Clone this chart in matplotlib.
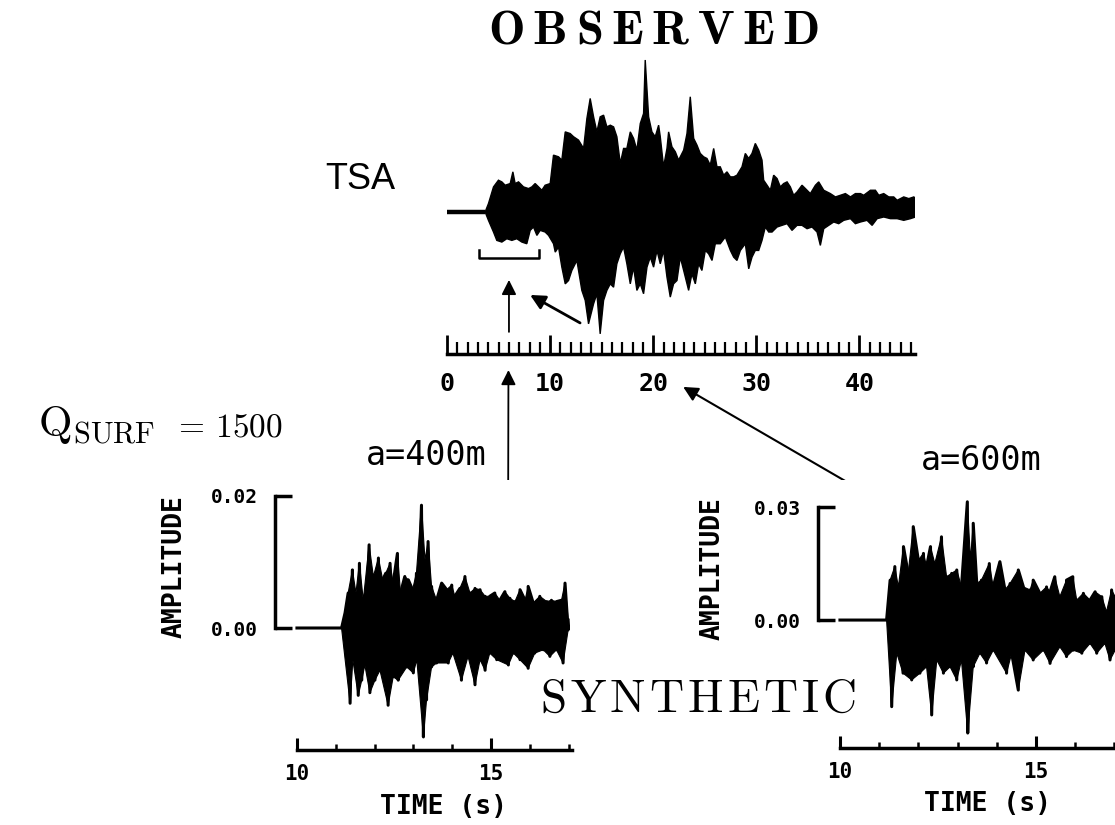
import numpy as np
import matplotlib
matplotlib.use('Agg')
import matplotlib.pyplot as plt
from matplotlib.ticker import MultipleLocator, FixedLocator, FormatStrFormatter

plt.rcParams['mathtext.fontset'] = 'cm'
MONO = 'DejaVu Sans Mono'

# observed record at TSA: envelope peaks (time in s, relative amplitude)
tsa_t_up = [0.0, 3.69, 4.01, 4.50, 4.98, 5.31, 5.63, 6.12, 6.38, 6.60, 6.93, 7.09, 7.41, 7.90,
            8.22, 8.54, 8.87, 9.19, 9.51, 10.00, 10.32, 10.81, 11.13, 11.46, 11.94, 12.27,
            12.75, 13.24, 13.56, 13.88, 14.21, 14.53, 14.85, 15.18, 15.50, 15.83, 16.15,
            16.47, 16.80, 17.12, 17.44, 17.77, 18.09, 18.41, 18.74, 19.06, 19.22, 19.55,
            19.87, 20.19, 20.52, 20.68, 21.00, 21.33, 21.49, 21.81, 22.14, 22.46, 22.95,
            23.27, 23.59, 23.92, 24.24, 24.56, 24.89, 25.21, 25.53, 25.86, 26.18, 26.50,
            26.83, 27.15, 27.48, 27.80, 28.12, 28.61, 28.93, 29.26, 29.58, 29.90, 30.23,
            30.55, 30.71, 31.04, 31.36, 31.68, 32.01, 32.33, 32.65, 32.98, 33.30, 33.62,
            33.95, 34.43, 34.76, 35.24, 35.73, 36.05, 36.54, 37.18, 37.67, 38.16, 38.64,
            39.13, 39.61, 40.10, 40.42, 41.07, 41.55, 41.88, 42.36, 42.85, 43.33, 43.66,
            44.30, 44.79, 45.28, 45.44]
tsa_a_up = [0.0, 0.0, 0.055, 0.165, 0.209, 0.198, 0.176, 0.187, 0.264, 0.187, 0.198, 0.187,
            0.165, 0.154, 0.165, 0.187, 0.165, 0.143, 0.176, 0.187, 0.374, 0.363, 0.341,
            0.527, 0.516, 0.495, 0.473, 0.418, 0.615, 0.747, 0.626, 0.527, 0.626, 0.637,
            0.560, 0.571, 0.560, 0.495, 0.319, 0.418, 0.418, 0.527, 0.484, 0.407, 0.582,
            0.648, 1.000, 0.626, 0.527, 0.495, 0.571, 0.495, 0.297, 0.418, 0.527, 0.429,
            0.396, 0.341, 0.407, 0.516, 0.758, 0.484, 0.440, 0.385, 0.363, 0.352, 0.308,
            0.418, 0.297, 0.297, 0.242, 0.264, 0.231, 0.231, 0.242, 0.297, 0.385, 0.352,
            0.385, 0.451, 0.407, 0.341, 0.209, 0.176, 0.143, 0.242, 0.220, 0.165, 0.187,
            0.198, 0.165, 0.110, 0.132, 0.176, 0.154, 0.121, 0.176, 0.198, 0.143, 0.121,
            0.099, 0.110, 0.121, 0.099, 0.121, 0.121, 0.110, 0.143, 0.143, 0.110, 0.121,
            0.099, 0.099, 0.077, 0.099, 0.088, 0.099, 0.088]
tsa_t_lo = [3.69, 4.01, 4.50, 4.82, 5.31, 5.79, 6.28, 6.76, 7.25, 7.73, 8.06, 8.38, 8.71,
            9.03, 9.51, 9.84, 10.32, 10.49, 10.81, 11.13, 11.46, 11.78, 12.10, 12.59, 13.07,
            13.40, 13.72, 14.21, 14.53, 14.85, 15.18, 15.50, 15.83, 16.15, 16.47, 16.80,
            17.12, 17.44, 17.77, 18.09, 18.41, 18.74, 19.06, 19.39, 19.71, 20.03, 20.36,
            20.68, 21.00, 21.33, 21.65, 21.97, 22.30, 22.62, 22.95, 23.43, 23.75, 24.08,
            24.40, 24.72, 25.05, 25.37, 25.70, 26.02, 26.50, 26.99, 27.48, 27.80, 28.12,
            28.45, 28.93, 29.26, 29.58, 29.90, 30.23, 30.55, 30.87, 31.20, 31.52, 32.01,
            32.49, 32.98, 33.46, 33.95, 34.43, 34.92, 35.40, 35.89, 36.21, 36.54, 37.02,
            37.51, 37.99, 38.48, 39.13, 39.61, 40.10, 40.74, 41.23, 41.72, 42.36, 43.01,
            43.66, 44.30, 44.95, 45.44]
tsa_a_lo = [0.0, -0.055, -0.132, -0.187, -0.198, -0.176, -0.187, -0.176, -0.198, -0.209,
            -0.121, -0.099, -0.154, -0.121, -0.132, -0.154, -0.209, -0.264, -0.231, -0.363,
            -0.473, -0.451, -0.385, -0.319, -0.516, -0.582, -0.736, -0.604, -0.538, -0.802,
            -0.582, -0.516, -0.473, -0.495, -0.341, -0.275, -0.231, -0.341, -0.473, -0.363,
            -0.516, -0.473, -0.538, -0.363, -0.297, -0.363, -0.253, -0.341, -0.253, -0.429,
            -0.560, -0.473, -0.451, -0.297, -0.385, -0.516, -0.407, -0.473, -0.341, -0.385,
            -0.253, -0.275, -0.319, -0.209, -0.209, -0.165, -0.253, -0.297, -0.319, -0.253,
            -0.209, -0.374, -0.297, -0.253, -0.253, -0.187, -0.099, -0.132, -0.132, -0.099,
            -0.088, -0.077, -0.121, -0.088, -0.088, -0.110, -0.099, -0.132, -0.220, -0.110,
            -0.088, -0.066, -0.077, -0.055, -0.044, -0.077, -0.066, -0.055, -0.088, -0.044,
            -0.033, -0.044, -0.044, -0.055, -0.044, -0.033]

# synthetic, a = 400 m: peaks and troughs (time in s, amplitude)
s400_t_up = [10.0, 11.15, 11.24, 11.32, 11.43, 11.52, 11.61, 11.71, 11.86, 11.97, 12.10, 12.21,
             12.29, 12.40, 12.48, 12.59, 12.67, 12.78, 12.87, 12.98, 13.08, 13.21, 13.30,
             13.38, 13.47, 13.60, 13.73, 13.86, 13.99, 14.07, 14.20, 14.33, 14.46, 14.59,
             14.72, 14.85, 14.97, 15.10, 15.23, 15.36, 15.49, 15.62, 15.75, 15.88, 15.96,
             16.09, 16.26, 16.44, 16.56, 16.69, 16.82, 16.91, 16.99]
s400_a_up = [0.0, 0.0, 0.0023, 0.0053, 0.0088, 0.0053, 0.0098, 0.0042, 0.0126, 0.0078, 0.0106,
             0.0073, 0.0083, 0.0098, 0.0068, 0.0113, 0.0053, 0.0078, 0.0073, 0.0058, 0.0083,
             0.0186, 0.0103, 0.0131, 0.0063, 0.0042, 0.0068, 0.0058, 0.0065, 0.0048, 0.0060,
             0.0078, 0.0053, 0.0060, 0.0058, 0.0048, 0.0048, 0.0053, 0.0042, 0.0055, 0.0045,
             0.0040, 0.0058, 0.0042, 0.0063, 0.0038, 0.0048, 0.0040, 0.0042, 0.0040, 0.0042,
             0.0068, 0.0012]
s400_t_lo = [11.15, 11.37, 11.44, 11.58, 11.67, 11.75, 11.88, 12.01, 12.14, 12.35, 12.48, 12.61,
             12.83, 13.00, 13.09, 13.26, 13.34, 13.47, 13.60, 13.90, 14.02, 14.24, 14.41,
             14.59, 14.72, 14.85, 14.97, 15.15, 15.45, 15.58, 15.75, 15.96, 16.13, 16.35,
             16.52, 16.69, 16.86, 16.99]
s400_a_lo = [0.0, -0.0114, -0.0048, -0.0102, -0.0079, -0.0056, -0.0098, -0.0079, -0.0064,
             -0.0117, -0.0074, -0.0079, -0.0059, -0.0068, -0.0048, -0.0165, -0.0109, -0.0059,
             -0.0053, -0.0053, -0.0038, -0.0079, -0.0043, -0.0086, -0.0048, -0.0064, -0.0038,
             -0.0048, -0.0056, -0.0038, -0.0048, -0.0061, -0.0038, -0.0033, -0.0043, -0.0033,
             -0.0053, -0.0003]

# synthetic, a = 600 m
s600_t_up = [10.0, 11.19, 11.28, 11.40, 11.49, 11.62, 11.74, 11.87, 12.00, 12.13, 12.21, 12.31,
             12.42, 12.59, 12.72, 12.85, 12.98, 13.10, 13.25, 13.33, 13.40, 13.49, 13.61,
             13.81, 13.91, 14.08, 14.21, 14.34, 14.55, 14.68, 14.85, 14.93, 15.10, 15.27,
             15.36, 15.48, 15.61, 15.78, 15.94, 16.04, 16.21, 16.38, 16.51, 16.68, 16.80,
             16.93, 17.02]
s600_a_up = [0.0, 0.0, 0.0106, 0.0142, 0.0088, 0.0195, 0.0124, 0.0248, 0.0159, 0.0177, 0.0142,
             0.0195, 0.0150, 0.0221, 0.0115, 0.0124, 0.0133, 0.0088, 0.0314, 0.0159, 0.0257,
             0.0097, 0.0106, 0.0150, 0.0088, 0.0155, 0.0080, 0.0097, 0.0133, 0.0088, 0.0080,
             0.0106, 0.0071, 0.0088, 0.0075, 0.0115, 0.0062, 0.0106, 0.0115, 0.0053, 0.0071,
             0.0053, 0.0075, 0.0062, 0.0022, 0.0080, 0.0062]
s600_t_lo = [11.19, 11.32, 11.45, 11.61, 11.83, 12.04, 12.21, 12.34, 12.47, 12.64, 12.81, 12.98,
             13.10, 13.26, 13.40, 13.57, 13.74, 13.91, 14.25, 14.38, 14.55, 14.72, 14.93,
             15.19, 15.36, 15.61, 15.78, 15.95, 16.17, 16.38, 16.55, 16.76, 16.89, 17.02]
s600_a_lo = [0.0, -0.0230, -0.0088, -0.0141, -0.0159, -0.0141, -0.0124, -0.0252, -0.0106,
             -0.0141, -0.0124, -0.0159, -0.0106, -0.0300, -0.0124, -0.0088, -0.0114, -0.0080,
             -0.0141, -0.0088, -0.0186, -0.0080, -0.0106, -0.0080, -0.0115, -0.0071, -0.0097,
             -0.0080, -0.0088, -0.0062, -0.0088, -0.0062, -0.0106, -0.0080]

obs_ticks = [0, 10, 20, 30, 40]

fig = plt.figure(figsize=(11.15, 8.25), dpi=100)

# ---- observed trace with time ruler ----
ax_obs = fig.add_axes([0.401, 0.571, 0.4197, 0.3806])
poly_t = tsa_t_up + tsa_t_lo[::-1]
poly_a = tsa_a_up + tsa_a_lo[::-1]
ax_obs.fill(poly_t, poly_a, color='black', lw=1.0, joinstyle='miter')
ax_obs.plot(tsa_t_up[:2], tsa_a_up[:2], color='black', lw=3.2, solid_capstyle='butt')
ax_obs.set_xlim(0, 45.4)
ax_obs.set_ylim(-0.934, 1.132)
for s in ['top', 'right', 'left']:
    ax_obs.spines[s].set_visible(False)
ax_obs.spines['bottom'].set_linewidth(2.5)
ax_obs.spines['bottom'].set_bounds(0, 45.4)
ax_obs.set_yticks([])
ax_obs.xaxis.set_major_locator(FixedLocator(obs_ticks))
ax_obs.xaxis.set_minor_locator(MultipleLocator(1))
ax_obs.tick_params(axis='x', which='major', direction='in', length=14, width=2, pad=13,
                   labelsize=18)
ax_obs.tick_params(axis='x', which='minor', direction='in', length=9, width=1.6)
for lab in ax_obs.get_xticklabels():
    lab.set_fontfamily(MONO)
    lab.set_fontweight('bold')
# window bracket under the first arrivals
ax_obs.plot([3.1, 3.1, 8.9, 8.9], [-0.25, -0.303, -0.303, -0.25], color='black', lw=1.8)
ax_obs.annotate('', xy=(6.0, -0.447), xytext=(6.0, -0.789),
                arrowprops=dict(arrowstyle='-|>', color='black', lw=1.3, mutation_scale=22,
                                shrinkA=0, shrinkB=0))
ax_obs.annotate('', xy=(8.05, -0.546), xytext=(12.9, -0.73),
                arrowprops=dict(arrowstyle='-|>', color='black', lw=2, mutation_scale=22,
                                shrinkA=0, shrinkB=0))


def synthetic(rect, t_up, a_up, t_lo, a_lo, xlim, ylim, top, tend):
    ax = fig.add_axes(rect)
    # solid core of the trace plus the individual swings
    ax.fill(t_up + t_lo[::-1], a_up + a_lo[::-1], color='black', lw=0.8)
    pts = sorted(zip(t_up + t_lo, a_up + a_lo))
    ax.plot([p[0] for p in pts], [p[1] for p in pts], color='black', lw=2.2)
    ax.set_xlim(*xlim)
    ax.set_ylim(*ylim)
    for s in ['top', 'right']:
        ax.spines[s].set_visible(False)
    ax.spines['left'].set_bounds(0, top)
    ax.spines['bottom'].set_bounds(10, tend)
    ax.spines['left'].set_linewidth(2.5)
    ax.spines['bottom'].set_linewidth(2.5)
    ax.set_yticks([0, top])
    ax.yaxis.set_major_formatter(FormatStrFormatter('%.2f'))
    ax.xaxis.set_major_locator(MultipleLocator(5))
    ax.xaxis.set_minor_locator(MultipleLocator(1))
    ax.tick_params(axis='y', direction='in', length=12, width=2.5, pad=12, labelsize=14)
    ax.tick_params(axis='x', which='major', direction='in', length=9, width=2.2, pad=10,
                   labelsize=15)
    ax.tick_params(axis='x', which='minor', direction='in', length=4, width=1.8)
    for lab in ax.get_xticklabels() + ax.get_yticklabels():
        lab.set_fontfamily(MONO)
        lab.set_fontweight('bold')
    ax.set_xlabel('TIME (s)', fontfamily=MONO, fontsize=19, fontweight='bold')
    ax.xaxis.label.set_va('center')
    ax.xaxis.set_label_coords(13.77, -0.21, transform=ax.get_xaxis_transform())
    ax.set_ylabel('AMPLITUDE', fontfamily=MONO, fontsize=19, fontweight='bold')
    ax.yaxis.label.set_va('center')
    return ax


ax_400 = synthetic([0.2466, 0.0909, 0.2735, 0.3273], s400_t_up, s400_a_up, s400_t_lo, s400_a_lo,
                   (9.433, 17.294), (-0.01848, 0.02242), 0.02, 17.1)
ax_400.yaxis.set_label_coords(-0.33, 0.678)
ax_600 = synthetic([0.7336, 0.0933, 0.2798, 0.3248], s600_t_up, s600_a_up, s600_t_lo, s600_a_lo,
                   (9.439, 17.398), (-0.03398, 0.03717), 0.03, 17.4)
ax_600.yaxis.set_label_coords(-0.337, 0.668)

# arrows tying synthetic windows to the observed record
ax_obs.annotate('', xy=(5.95, -1.04), xycoords='data', xytext=(15.44, 0.008),
                textcoords=ax_400.transData, annotation_clip=False,
                arrowprops=dict(arrowstyle='-|>', color='black', lw=1.3, mutation_scale=22,
                                shrinkA=0, shrinkB=0))
ax_obs.annotate('', xy=(22.9, -1.151), xycoords='data', xytext=(11.28, 0.030),
                textcoords=ax_600.transData, annotation_clip=False,
                arrowprops=dict(arrowstyle='-|>', color='black', lw=1.5, mutation_scale=22,
                                shrinkA=0, shrinkB=0))

fig.text(0.5865, 0.9648, r'$\mathbf{O\hspace{0.2}B\hspace{0.2}S\hspace{0.2}E\hspace{0.2}R'
         r'\hspace{0.2}V\hspace{0.2}E\hspace{0.2}D}$', fontsize=35, ha='center', va='center')
fig.text(0.626, 0.1527, r'$\mathrm{S\hspace{0.1}Y\hspace{0.1}N\hspace{0.1}T\hspace{0.1}H'
         r'\hspace{0.1}E\hspace{0.1}T\hspace{0.1}I\hspace{0.1}C}$', fontsize=34, ha='center',
         va='center')
fig.text(0.034, 0.4715, r'$\mathrm{Q}_{\mathrm{SURF}}$', fontsize=31, ha='left',
         va='baseline')
fig.text(0.155, 0.4715, r'$=\,1500$', fontsize=24, ha='left', va='baseline')
fig.text(0.3229, 0.783, 'TSA', fontfamily='Liberation Sans', fontsize=26, ha='center',
         va='center')
fig.text(0.382, 0.4473, 'a=400m', fontfamily=MONO, fontsize=24, ha='center', va='center')
fig.text(0.8798, 0.4424, 'a=600m', fontfamily=MONO, fontsize=24, ha='center', va='center')

fig.savefig('out.png', dpi=100, facecolor='white')
